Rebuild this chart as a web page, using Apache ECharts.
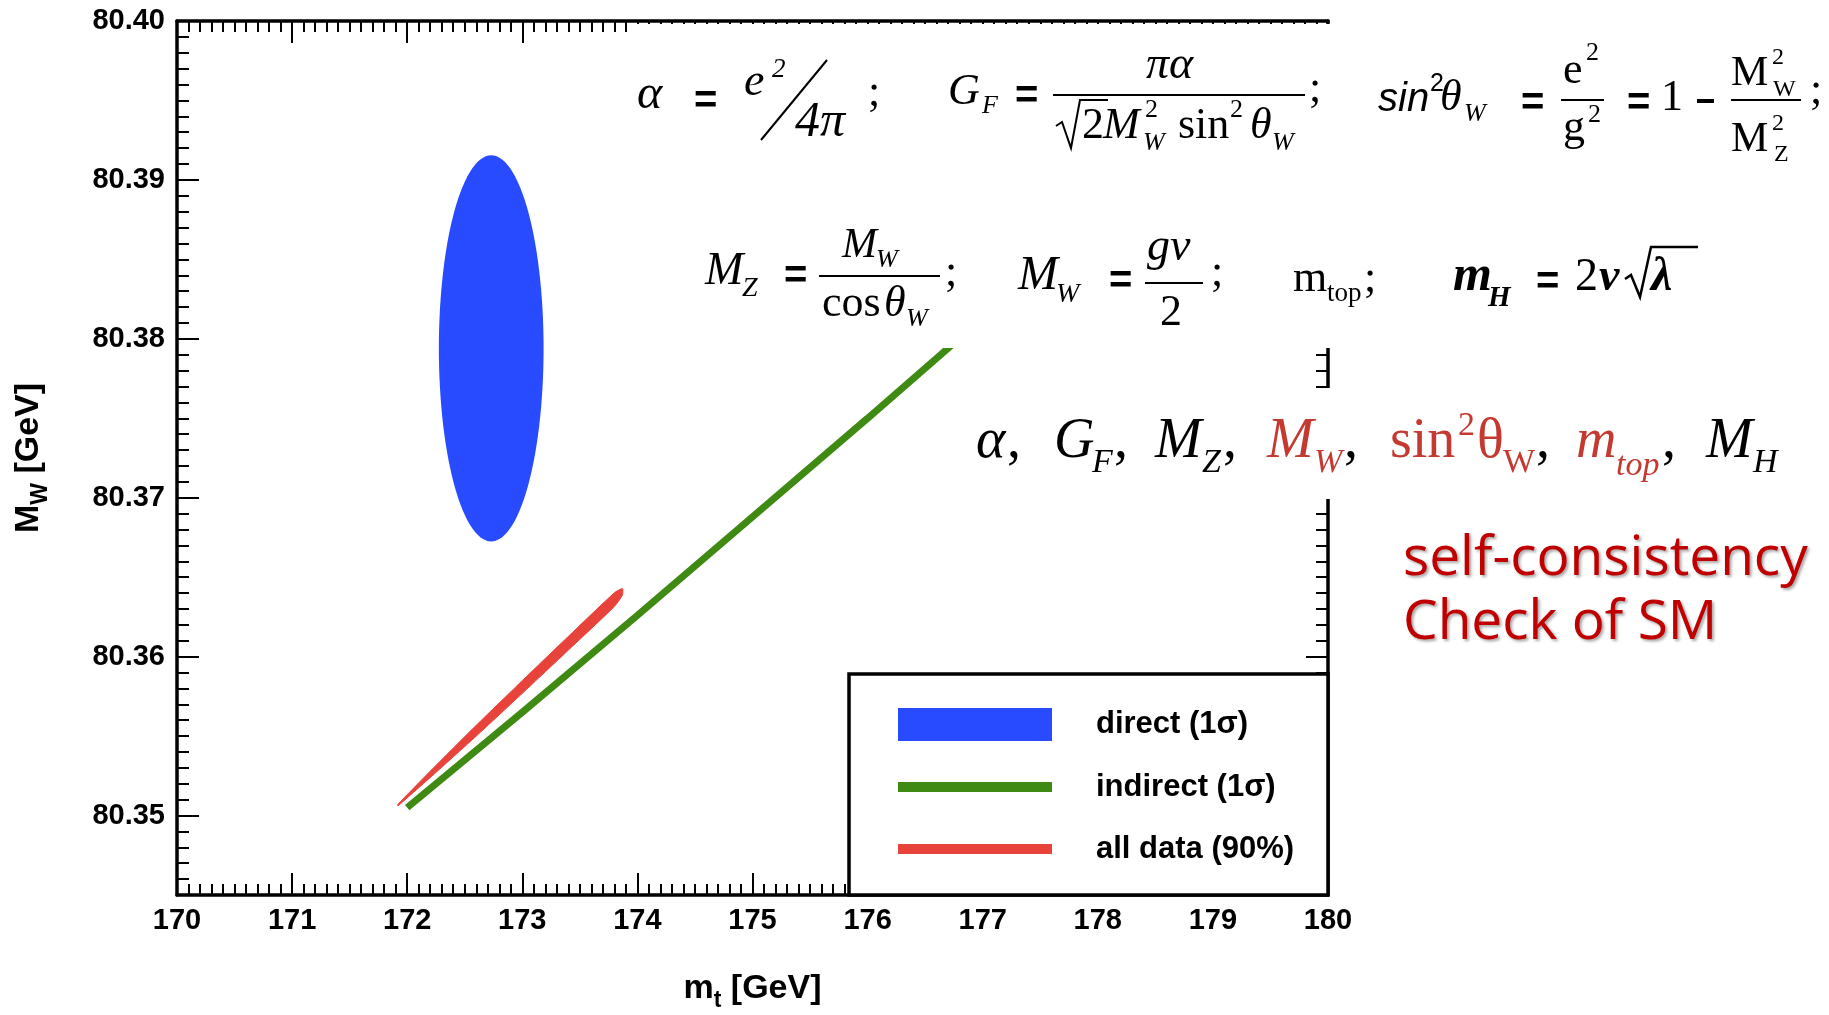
<!DOCTYPE html>
<html><head><meta charset="utf-8">
<script src="https://cdn.jsdelivr.net/npm/echarts@6/dist/echarts.min.js"></script>
<style>html,body{margin:0;padding:0;background:#fff}#c{width:1829px;height:1015px}</style>
</head><body><div id="c"></div>
<script>
// ---------- data ----------
const xMin = 170, xMax = 180, xStep = 1;
const yMin = 80.345, yMax = 80.40, yMinorStep = 0.001;
const yTickValues = [80.35, 80.36, 80.37, 80.38, 80.39, 80.40];
const seriesNames = ['direct (1σ)', 'indirect (1σ)', 'all data (90%)'];
// direct (1 sigma) ellipse: centre and half-axes (m_t, M_W)
const directCenter = [172.73, 80.3794];
const directHalfAxes = [0.455, 0.01215];
// indirect (1 sigma) band centre line
const indirectX = [172.0, 173.0, 174.0, 175.0, 176.0, 177.0];
const indirectY = [80.3505, 80.3565, 80.3626, 80.3688, 80.3750, 80.3813];
// all data (90%) band: upper / lower edge
const allX     = [171.92, 172.2, 172.6, 173.0, 173.4, 173.8, 173.87];
const allUpper = [80.35071, 80.35279, 80.35568, 80.35849, 80.36127, 80.36402, 80.36428];
const allLower = [80.35061, 80.35239, 80.35500, 80.35769, 80.36041, 80.36316, 80.36388];

// ---------- styling ----------
const BLUE = '#294BFF', GREEN = '#3F8A12', RED = '#E8433A', FRED = '#C43A31', DRED = '#C00000';
const SANS = "'Liberation Sans', Arial, Helvetica, sans-serif";
const SERIF = "'Liberation Serif', 'Times New Roman', serif";
const OPEN = "'Open Sans', 'Noto Sans', sans-serif";
const tickFont = {fontSize: 29, fontWeight: 'bold', fontFamily: SANS, color: '#000'};
const lineSt = {color: '#000', width: 3.5};
const tickSt = {color: '#000', width: 2};

function xAx(pos, labels) {
  return {
    type: 'value', min: xMin, max: xMax, interval: xStep, position: pos,
    axisLine: {show: true, onZero: false, lineStyle: lineSt},
    axisTick: {show: true, inside: true, length: 22, lineStyle: tickSt},
    minorTick: {show: true, splitNumber: 10, length: 11, lineStyle: tickSt},
    axisLabel: Object.assign({show: labels, margin: 11}, tickFont),
    splitLine: {show: false}, minorSplitLine: {show: false}
  };
}
function yMajor(pos, labels) {
  return {
    type: 'value', min: yMin, max: yMax, position: pos,
    axisLine: {show: true, onZero: false, lineStyle: lineSt},
    axisTick: {show: true, inside: true, length: 22, lineStyle: tickSt, customValues: yTickValues},
    axisLabel: Object.assign({show: labels, margin: 12, customValues: yTickValues,
      formatter: v => Number(v).toFixed(2)}, tickFont),
    splitLine: {show: false}
  };
}
function yMinor(pos) {
  return {
    type: 'value', min: yMin, max: yMax, interval: yMinorStep, position: pos,
    axisLine: {show: false}, axisLabel: {show: false},
    axisTick: {show: true, inside: true, length: 12, lineStyle: tickSt},
    splitLine: {show: false}
  };
}

const nameRich = {
  b: {fontSize: 34, fontWeight: 'bold', fontFamily: SANS, lineHeight: 34, verticalAlign: 'top'},
  s: {fontSize: 23, fontWeight: 'bold', fontFamily: SANS, lineHeight: 58, verticalAlign: 'middle'}
};
const xAxis0 = xAx('bottom', true);
Object.assign(xAxis0, {
  name: '{b|m}{s|t}{b| [GeV]}', nameLocation: 'middle', nameGap: 77, nameMoveOverlap: false,
  nameTextStyle: {fontSize: 34, fontWeight: 'bold', fontFamily: SANS, color: '#000', rich: nameRich}
});
const yAxis0 = yMajor('left', true);
Object.assign(yAxis0, {
  name: '{b|M}{s|W}{b| [GeV]}', nameLocation: 'middle', nameGap: 107, nameRotate: 90, nameMoveOverlap: false,
  nameTextStyle: {fontSize: 34, fontWeight: 'bold', fontFamily: SANS, color: '#000', rich: nameRich}
});

// ---------- text helpers for the formula overlay ----------
function txt(s, x, base, size, o) {
  o = o || {};
  const fam = o.family || SERIF;
  const mid = o.mid != null ? o.mid : 0.34;
  const st = {text: s, fontSize: size, fontFamily: fam, fontStyle: o.italic ? 'italic' : 'normal',
    fontWeight: o.bold ? 'bold' : 'normal', fill: o.color || '#000', align: 'left', verticalAlign: 'middle'};
  if (o.shadow) { st.textShadowColor = 'rgba(0,0,0,0.35)'; st.textShadowBlur = 3; st.textShadowOffsetX = 2; st.textShadowOffsetY = 2; }
  return {type: 'text', z: 110, x: x, y: base - mid * size, style: st};
}
function eq(x, yc) {
  return {type: 'text', z: 110, x: x, y: yc, style: {text: '=', fontSize: 40, fontWeight: 'bold', fontFamily: SANS, fill: '#000', align: 'left', verticalAlign: 'middle'}};
}
function ln(x1, y1, x2, y2, w) {
  return {type: 'line', z: 110, shape: {x1, y1, x2, y2}, style: {stroke: '#000', lineWidth: w || 2}};
}
function pl(pts, w) {
  return {type: 'polyline', z: 110, shape: {points: pts}, style: {stroke: '#000', lineWidth: w || 2, fill: null}};
}
const I = {italic: true}, BI = {italic: true, bold: true};

const formula = [
  // overlay boxes (white background of the pasted formulas)
  {type: 'rect', z: 100, shape: {x: 628, y: 24, width: 1201, height: 324}, style: {fill: '#fff'}},
  {type: 'rect', z: 100, shape: {x: 960, y: 388, width: 869, height: 111}, style: {fill: '#fff'}},
  // line 1
  txt('α', 637, 112, 48, I), eq(694, 102), txt('e', 744, 99, 46, I), txt('2', 772, 79, 27, I),
  ln(827, 60, 761, 140, 2), txt('4π', 795, 140, 50, I), txt(';', 868, 108, 44),
  txt('G', 948, 107, 44, I), txt('F', 982, 115, 26, I), eq(1015, 97),
  ln(1053, 95, 1305, 95, 2), txt('πα', 1146, 82, 46, I),
  pl([[1056, 126], [1062, 122], [1071, 148], [1080, 100], [1108, 100]], 2),
  txt('2', 1082, 141, 44), txt('M', 1103, 141, 44, I), txt('2', 1145, 119, 26), txt('W', 1143, 152, 26, I),
  txt('sin', 1178, 141, 44), txt('2', 1230, 119, 26), txt('θ', 1250, 141, 44, I), txt('W', 1272, 152, 26, I),
  txt(';', 1309, 104, 44),
  txt('sin', 1378, 113, 40, {italic: true, family: SANS}), txt('2', 1430, 93, 25, {family: SANS}),
  txt('θ', 1440, 113, 44, I), txt('W', 1464, 123, 26, I), eq(1521, 104),
  txt('e', 1563, 86, 44), txt('2', 1586, 62, 26), ln(1561, 100, 1604, 100, 2), txt('g', 1563, 143, 44), txt('2', 1588, 124, 26),
  eq(1627, 104), txt('1', 1661, 113, 44), ln(1697, 101, 1714, 101, 4),
  txt('M', 1731, 88, 42), txt('2', 1772, 66, 24), txt('W', 1773, 98, 24),
  ln(1731, 100, 1801, 100, 2),
  txt('M', 1731, 154, 42), txt('2', 1772, 132, 24), txt('Z', 1774, 163, 24), txt(';', 1810, 106, 44),
  // line 2
  txt('M', 705, 288, 46, I), txt('Z', 742, 298, 28, I), eq(784, 277), ln(819, 276, 940, 276, 2),
  txt('M', 842, 260, 42, I), txt('W', 876, 269, 26, I),
  txt('cos', 822, 319, 44), txt('θ', 884, 319, 44, I), txt('W', 906, 328, 26, I), txt(';', 945, 288, 44),
  txt('M', 1018, 293, 48, I), txt('W', 1056, 304, 28, I), eq(1109, 282),
  txt('gv', 1147, 264, 46, I), ln(1145, 283, 1203, 283, 2), txt('2', 1160, 328, 44), txt(';', 1211, 288, 44),
  txt('m', 1293, 294, 44), txt('top', 1327, 303, 27), txt(';', 1364, 294, 44),
  txt('m', 1453, 294, 50, BI), txt('H', 1488, 308, 29, BI), eq(1536, 283),
  txt('2', 1575, 294, 46), txt('v', 1599, 294, 46, BI),
  pl([[1625, 279], [1631, 275], [1640, 297], [1651, 247], [1698, 247]], 2.5),
  txt('λ', 1651, 294, 48, BI),
  // line 3
  txt('α', 976, 461, 56, I), txt(',', 1007, 461, 56),
  txt('G', 1054, 461, 56, I), txt('F', 1092, 475, 34, I), txt(',', 1114, 461, 56),
  txt('M', 1155, 461, 56, I), txt('Z', 1202, 475, 34, I), txt(',', 1223, 461, 56),
  txt('M', 1267, 461, 56, {italic: true, color: FRED}), txt('W', 1314, 475, 34, {italic: true, color: FRED}), txt(',', 1344, 461, 56),
  txt('sin', 1390, 461, 56, {color: FRED}), txt('2', 1458, 438, 34, {color: FRED}), txt('θ', 1477, 461, 56, {color: FRED}),
  txt('W', 1503, 475, 34, {color: FRED}), txt(',', 1536, 461, 56),
  txt('m', 1576, 461, 56, {italic: true, color: FRED}), txt('top', 1616, 478, 34, {italic: true, color: FRED}), txt(',', 1662, 461, 56),
  txt('M', 1706, 461, 56, I), txt('H', 1753, 475, 34, I),
  // slogan
  txt('self-consistency', 1403, 581, 55, {family: OPEN, color: DRED, mid: 0.39, shadow: true}),
  txt('Check of SM', 1403, 645, 55, {family: OPEN, color: DRED, mid: 0.39, shadow: true})
];

// legend box drawn inside the frame
const LF = 31;
const legendEls = [
  {type: 'rect', z: 100, shape: {x: 849, y: 674, width: 479, height: 221}, style: {fill: '#fff', stroke: '#000', lineWidth: 3.5}},
  {type: 'rect', z: 101, shape: {x: 898, y: 708, width: 154, height: 33}, style: {fill: BLUE}},
  {type: 'rect', z: 101, shape: {x: 898, y: 782, width: 154, height: 10}, style: {fill: GREEN}},
  {type: 'rect', z: 101, shape: {x: 898, y: 844, width: 154, height: 10}, style: {fill: RED}},
  txt(seriesNames[0], 1096, 724 + 0.35 * LF, LF, {family: SANS, bold: true}),
  txt(seriesNames[1], 1096, 787 + 0.35 * LF, LF, {family: SANS, bold: true}),
  txt(seriesNames[2], 1096, 849 + 0.35 * LF, LF, {family: SANS, bold: true})
];

const chart = echarts.init(document.getElementById('c'), null, {renderer: 'canvas'});
chart.setOption({
  backgroundColor: '#fff',
  animation: false,
  grid: {left: 177, right: 501, top: 21, bottom: 120, containLabel: false, outerBoundsMode: 'none'},
  xAxis: [xAxis0, xAx('top', false)],
  yAxis: [yAxis0, yMinor('left'), yMajor('right', false), yMinor('right')],
  legend: {show: false},
  series: [
    {
      name: seriesNames[0], type: 'custom', xAxisIndex: 0, yAxisIndex: 0, z: 3,
      data: [[directCenter[0], directCenter[1], directHalfAxes[0], directHalfAxes[1]]],
      renderItem: function (params, api) {
        const cx = api.value(0), cy = api.value(1), a = api.value(2), b = api.value(3);
        const pts = [];
        for (let k = 0; k < 120; k++) {
          const t = 2 * Math.PI * k / 120;
          pts.push(api.coord([cx + a * Math.cos(t), cy + b * Math.sin(t)]));
        }
        return {type: 'polygon', shape: {points: pts}, style: {fill: BLUE}};
      }
    },
    {
      name: seriesNames[1], type: 'line', xAxisIndex: 0, yAxisIndex: 0, z: 3,
      data: indirectX.map((x, i) => [x, indirectY[i]]),
      showSymbol: false, symbol: 'none', smooth: false,
      lineStyle: {color: GREEN, width: 7, cap: 'butt'}
    },
    {
      name: seriesNames[2], type: 'custom', xAxisIndex: 0, yAxisIndex: 0, z: 4,
      data: allX.map((x, i) => [x, allUpper[i], allLower[i]]),
      renderItem: function (params, api) {
        if (params.dataIndex !== 0) return null;
        const pts = [];
        for (let i = 0; i < allX.length; i++) pts.push(api.coord([allX[i], allUpper[i]]));
        for (let i = allX.length - 1; i >= 0; i--) pts.push(api.coord([allX[i], allLower[i]]));
        return {type: 'polygon', shape: {points: pts, smooth: 0.2}, style: {fill: RED, stroke: RED, lineWidth: 1}};
      }
    }
  ],
  graphic: {elements: formula.concat(legendEls)}
});
</script>
</body></html>
